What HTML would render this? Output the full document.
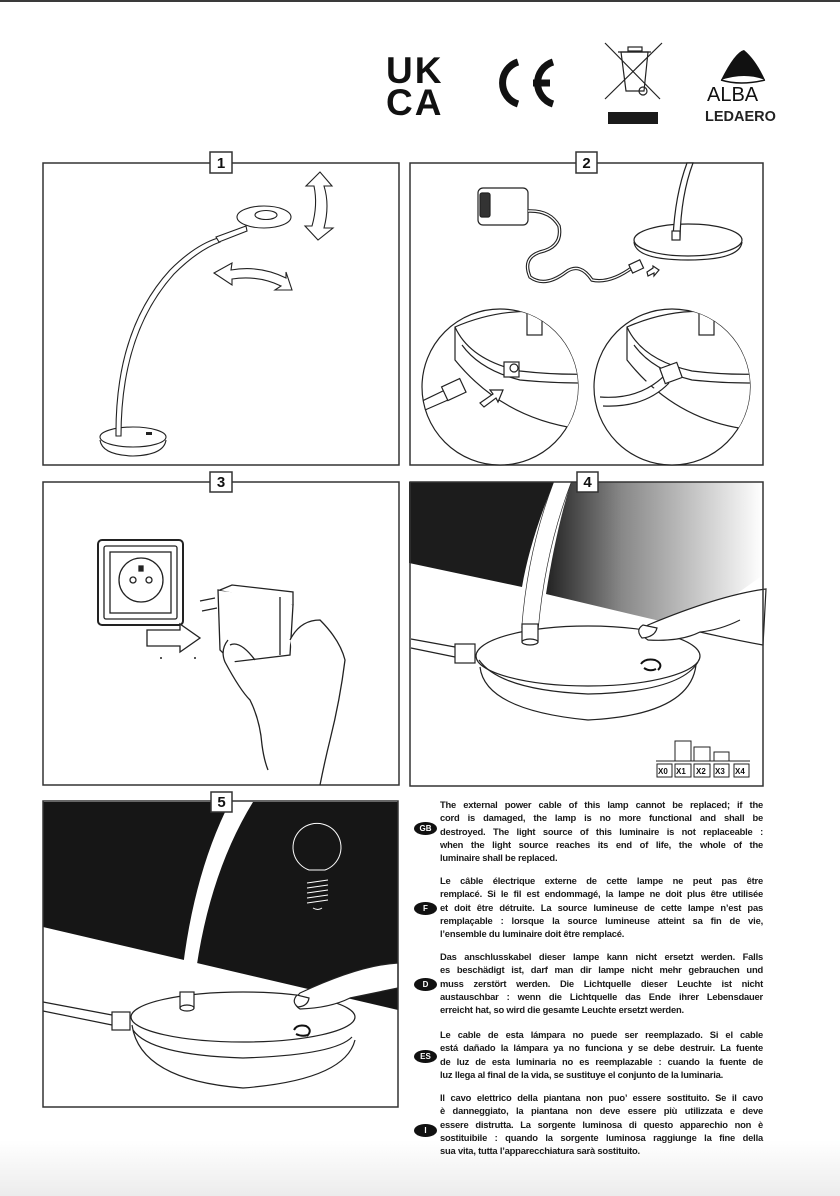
<!DOCTYPE html>
<html><head><meta charset="utf-8">
<style>
html,body{margin:0;padding:0;}
body{width:840px;height:1196px;position:relative;overflow:hidden;background:#fff;font-family:"Liberation Sans",Arial,sans-serif;}
.bg{position:absolute;left:0;top:1140px;width:840px;height:56px;background:linear-gradient(#fff,#ececec);}
.topline{position:absolute;left:0;top:0;width:840px;height:2px;background:#3a3a3a;}
svg{position:absolute;left:0;top:0;}
.blk{position:absolute;left:440px;width:323px;font-weight:bold;font-size:9.4px;line-height:13.3px;color:#1a1a1a;letter-spacing:-0.2px;}
.blk div{text-align:justify;text-align-last:justify;white-space:nowrap;height:13.3px;}
.blk div.l{text-align-last:left;}
.flag{position:absolute;left:414px;width:23px;height:13px;border-radius:50%;background:#111;color:#fff;font-size:8px;font-weight:bold;text-align:center;line-height:13px;}
</style></head><body>
<div class="bg"></div>
<div class="topline"></div>
<svg width="840" height="1196" viewBox="0 0 840 1196" xmlns="http://www.w3.org/2000/svg">
<defs>
<linearGradient id="g4" x1="0" y1="0" x2="1" y2="0">
<stop offset="0" stop-color="#222"/><stop offset="0.35" stop-color="#888"/><stop offset="1" stop-color="#fff"/>
</linearGradient>
<clipPath id="c1"><circle cx="500" cy="387" r="78"/></clipPath>
<clipPath id="c2"><circle cx="672" cy="387" r="78"/></clipPath>
</defs>

<!-- LOGOS -->
<text x="386" y="83" font-family="Liberation Sans" font-weight="bold" font-size="37" letter-spacing="2" fill="#111">UK</text>
<text x="386" y="115" font-family="Liberation Sans" font-weight="bold" font-size="37" letter-spacing="2" fill="#111">CA</text>
<path d="M518 62 A22 22 0 0 0 518 104" fill="none" stroke="#111" stroke-width="7"/>
<path d="M553 62 A22 22 0 0 0 553 104 M533 83 H550" fill="none" stroke="#111" stroke-width="7"/>
<g stroke="#222" fill="none" stroke-width="1.2">
<line x1="605" y1="43" x2="660" y2="99"/><line x1="662" y1="43" x2="605" y2="99"/>
<path d="M621 52 H648 L644 91 H626 Z"/><line x1="618" y1="52" x2="651" y2="52"/>
<rect x="628" y="47" width="14" height="4"/><circle cx="643" cy="91" r="4"/>
</g>
<rect x="608" y="112" width="50" height="12" fill="#1a1a1a"/>
<path d="M721 80 Q735 52 744 50 Q756 60 765 80 Q745 72 721 80 Z" fill="#111"/>
<path d="M721 80 Q740 86 765 80" fill="none" stroke="#111" stroke-width="1.5"/>
<text x="707" y="101" font-family="Liberation Sans" font-size="20" fill="#111">ALBA</text>
<text x="705" y="121" font-family="Liberation Sans" font-weight="bold" font-size="14.5" fill="#222">LEDAERO</text>

<!-- PANEL FRAMES -->
<g fill="none" stroke="#333" stroke-width="1.5">
<rect x="43" y="163" width="356" height="302"/>
<rect x="410" y="163" width="353" height="302"/>
<rect x="43" y="482" width="356" height="303"/>
</g>

<!-- PANEL 4 content -->
<path d="M409 482 H554 Q530 540 522 587 L409 563 Z" fill="#1c1c1c"/>
<path d="M571 482 H763 V640 L660 621 L546 594 Q556 530 571 482 Z" fill="url(#g4)"/>
<path d="M763 575 L700 620 L763 640 Z" fill="#fff"/>
<path d="M554 482 Q528 550 522 628 M571 482 Q545 550 538 628" fill="none" stroke="#222" stroke-width="1.3"/>
<path d="M554 482 Q528 550 522 628 L538 628 Q545 550 571 482 Z" fill="#fff"/>
<g fill="#fff" stroke="#222" stroke-width="1.2">
<path d="M480 667 Q485 710 588 720 Q690 715 696 665"/>
<ellipse cx="588" cy="656" rx="112" ry="30"/>
<path d="M479 660 Q500 690 588 694 Q680 692 698 662" fill="none"/>
<rect x="522" y="624" width="16" height="18"/>
<ellipse cx="530" cy="642" rx="8" ry="3"/>
<path d="M766 589 Q720 595 648 625 Q637 633 648 640 Q680 642 700 632 Q735 640 763 645 Z"/>
<path d="M643 625 Q635 630 642 638 Q655 637 657 628 Z"/>
<rect x="455" y="644" width="20" height="19"/>
</g>
<path d="M411 639 L455 647 M411 648 L455 657" stroke="#222" stroke-width="1.2"/>
<path d="M641 664 Q645 658 655 660 Q664 664 658 670 M644 668 Q650 672 656 669" fill="none" stroke="#111" stroke-width="2"/>
<path d="M700 632 Q720 630 740 620" fill="none" stroke="#222"/>
<g fill="none" stroke="#222" stroke-width="1">
<line x1="656" y1="761" x2="750" y2="761"/>
<rect x="675" y="741" width="16" height="20"/><rect x="694" y="747" width="16" height="14"/><rect x="714" y="752" width="15" height="9"/>
<rect x="657" y="764" width="15" height="13"/><rect x="675" y="764" width="16" height="13"/><rect x="694" y="764" width="16" height="13"/><rect x="714" y="764" width="15" height="13"/><rect x="734" y="764" width="15" height="13"/>
</g>
<g font-family="Liberation Sans" font-weight="bold" font-size="8" fill="#111">
<text x="658" y="774">X0</text><text x="676" y="774">X1</text><text x="696" y="774">X2</text><text x="715" y="774">X3</text><text x="735" y="774">X4</text>
</g>
<rect x="410" y="482" width="353" height="304" fill="none" stroke="#333" stroke-width="1.5"/>

<!-- PANEL 5 content -->
<path d="M43 802 H398 V1010 L43 927 Z" fill="#161616"/>
<path d="M230 802 Q190 880 180 995 L193 995 Q205 880 253 802 Z" fill="#fff"/>
<g fill="none" stroke="#fff" stroke-width="1">
<path d="M309 870 A24 24 0 1 1 325 870 Z"/>
<path d="M307 883 L328 880 M307 888 L328 885 M307 893 L328 890 M307 898 L328 895 M307 903 L328 900 M313 908 Q318 911 322 908"/>
</g>
<g fill="#fff" stroke="#222" stroke-width="1.2">
<path d="M132 1025 Q140 1080 243 1088 Q345 1080 355 1040"/>
<ellipse cx="243" cy="1017" rx="112" ry="25"/>
<path d="M133 1030 Q150 1055 243 1058 Q335 1055 352 1037" fill="none"/>
<rect x="180" y="992" width="14" height="16"/>
<ellipse cx="187" cy="1008" rx="7" ry="3"/>
<path d="M398 963 Q360 965 300 993 Q290 1003 300 1009 Q330 1008 350 998 L398 988 Z"/>
<path d="M297 995 Q291 1002 298 1007 Q308 1006 309 998 Z"/>
<rect x="112" y="1012" width="18" height="18"/>
</g>
<path d="M43 1002 L112 1015 M43 1011 L112 1025" stroke="#222" stroke-width="1.2"/>
<path d="M294 1030 Q297 1024 306 1026 Q313 1030 307 1036 M296 1034 Q302 1037 308 1035" fill="none" stroke="#111" stroke-width="2"/>
<rect x="43" y="801" width="355" height="306" fill="none" stroke="#333" stroke-width="1.5"/>

<!-- PANEL 1 content -->
<g fill="#fff" stroke="#222" stroke-width="1.1">
<path d="M100 440 Q102 455 133 456 Q164 455 166 440"/>
<ellipse cx="133" cy="437" rx="33" ry="10"/>
<path d="M116 436 Q115 330 170 270 Q195 245 218 238 L220 242 Q198 250 174 274 Q121 333 121 436 Z"/>
<path d="M216 237 L246 226 L247 231 L219 242 Z"/>
<ellipse cx="264" cy="217" rx="27" ry="11"/>
<ellipse cx="266" cy="215" rx="11" ry="4.5"/>
<path d="M320 172 L306 186 L314 186 Q318 205 312 226 L305 226 L318 240 L333 228 L324 228 Q330 205 324 186 L332 186 Z"/>
<path d="M214 273 L232 263 L231 270 Q260 265 286 278 L286 272 L292 290 L275 290 L281 286 Q258 275 232 279 L232 285 Z"/>
</g>
<rect x="146" y="432" width="6" height="3" fill="#222"/>

<!-- PANEL 2 content -->
<g fill="#fff" stroke="#222" stroke-width="1.2">
<rect x="478" y="188" width="50" height="37" rx="5"/>
<rect x="480" y="193" width="10" height="24" rx="2" fill="#333"/>
<path d="M528 211 Q550 210 559 226 Q563 247 540 252 Q522 258 530 277 Q545 288 566 272 Q580 262 592 280 Q610 284 633 267" fill="none" stroke-width="3.5"/>
<path d="M528 211 Q550 210 559 226 Q563 247 540 252 Q522 258 530 277 Q545 288 566 272 Q580 262 592 280 Q610 284 633 267" fill="none" stroke="#fff" stroke-width="1.3"/>
<rect x="630" y="262" width="12" height="9" transform="rotate(-25 636 266)"/>
<path d="M647 272 L653 268 L653 266 L659 270 L654 276 L654 273 L648 276 Z"/>
<path d="M634 242 Q636 260 688 260 Q740 260 742 242"/>
<ellipse cx="688" cy="240" rx="54" ry="16"/>
<path d="M673 238 Q675 195 687 163 L693 163 Q681 195 680 238 Z"/>
<rect x="672" y="231" width="8" height="9"/>
<circle cx="500" cy="387" r="78"/>
<circle cx="672" cy="387" r="78"/>
</g>
<g clip-path="url(#c1)" fill="#fff" stroke="#222" stroke-width="1.2">
<path d="M455 327 Q540 290 640 340 L640 430 Q520 440 455 360 Z"/>
<path d="M455 327 Q470 360 520 371 Q580 378 640 370" fill="none"/>
<path d="M462 345 Q480 370 520 380 Q580 386 640 380" fill="none"/>
<rect x="527" y="300" width="15" height="35"/>
<rect x="504" y="362" width="15" height="15"/>
<circle cx="514" cy="368" r="4"/>
<path d="M420 402 L445 390 M425 410 L448 400" />
<rect x="444" y="382" width="20" height="15" transform="rotate(-25 454 390)"/>
<path d="M480 403 L493 394 L490 390 L503 390 L498 402 L496 398 L484 407 Z"/>
</g>
<g clip-path="url(#c2)" fill="#fff" stroke="#222" stroke-width="1.2">
<path d="M627 327 Q712 290 800 340 L800 430 Q690 440 627 360 Z"/>
<path d="M627 327 Q642 360 692 371 Q750 378 800 370" fill="none"/>
<path d="M634 345 Q652 370 692 380 Q750 386 800 380" fill="none"/>
<rect x="699" y="300" width="15" height="35"/>
<path d="M600 397 Q640 400 665 375 M603 406 Q645 408 669 383"/>
<rect x="662" y="365" width="18" height="16" transform="rotate(-20 671 373)"/>
</g>

<!-- PANEL 3 content -->
<g fill="#fff" stroke="#222" stroke-width="1.3">
<rect x="98" y="540" width="85" height="85" rx="4" stroke-width="2"/>
<rect x="104" y="546" width="73" height="73" rx="2"/>
<rect x="110" y="552" width="61" height="61"/>
<circle cx="141" cy="580" r="22"/>
<circle cx="133" cy="580" r="3"/><circle cx="149" cy="580" r="3"/>
<path d="M139 566 h4 v5 h-4z" fill="#222"/>
<path d="M147 630 L180 630 L180 624 L200 638 L180 652 L180 646 L147 646 Z"/>
<path d="M200 601 L215 598 M202 611 L217 608"/>
<path d="M218 590 L280 597 L293 605 L290 655 L232 662 L220 650 Z"/>
<path d="M280 597 L280 655 M220 590 L232 585 L293 592 L293 605"/>
<path d="M228 640 Q220 650 225 662 Q240 690 250 700 Q260 720 262 745 Q264 760 268 770"/>
<path d="M290 640 Q300 620 320 620 Q340 640 345 660 Q340 700 330 740 Q325 760 320 785"/>
<path d="M230 645 Q240 640 255 660" fill="none"/>
</g>
<circle cx="161" cy="658" r="1" fill="#222"/><circle cx="195" cy="658" r="1" fill="#222"/>

<!-- number boxes -->
<g fill="#fff" stroke="#333" stroke-width="1.5">
<rect x="210" y="152" width="22" height="21"/>
<rect x="576" y="152" width="21" height="21"/>
<rect x="210" y="472" width="22" height="20"/>
<rect x="577" y="472" width="21" height="20"/>
<rect x="211" y="792" width="21" height="20"/>
</g>
<g font-family="Liberation Sans" font-weight="bold" font-size="15" fill="#111" text-anchor="middle">
<text x="221" y="168">1</text><text x="586.5" y="168">2</text><text x="221" y="487">3</text><text x="587.5" y="487">4</text><text x="221.5" y="807">5</text>
</g>
</svg>

<div class="flag" style="top:822px">GB</div>
<div class="flag" style="top:902px">F</div>
<div class="flag" style="top:978px">D</div>
<div class="flag" style="top:1050px">ES</div>
<div class="flag" style="top:1124px">I</div>

<div class="blk" style="top:798px">
<div>The external power cable of this lamp cannot be replaced; if the</div>
<div>cord is damaged, the lamp is no more functional and shall be</div>
<div>destroyed. The light source of this luminaire is not replaceable :</div>
<div>when the light source reaches its end of life, the whole of the</div>
<div class="l">luminaire shall be replaced.</div>
</div>
<div class="blk" style="top:874px">
<div>Le câble électrique externe de cette lampe ne peut pas être</div>
<div>remplacé. Si le fil est endommagé, la lampe ne doit plus être utilisée</div>
<div>et doit être détruite. La source lumineuse de cette lampe n’est pas</div>
<div>remplaçable : lorsque la source lumineuse atteint sa fin de vie,</div>
<div class="l">l’ensemble du luminaire doit être remplacé.</div>
</div>
<div class="blk" style="top:950px">
<div>Das anschlusskabel dieser lampe kann nicht ersetzt werden. Falls</div>
<div>es beschädigt ist, darf man dir lampe nicht mehr gebrauchen und</div>
<div>muss zerstört werden. Die Lichtquelle dieser Leuchte ist nicht</div>
<div>austauschbar : wenn die Lichtquelle das Ende ihrer Lebensdauer</div>
<div class="l">erreicht hat, so wird die gesamte Leuchte ersetzt werden.</div>
</div>
<div class="blk" style="top:1028px">
<div>Le cable de esta lámpara no puede ser reemplazado. Si el cable</div>
<div>está dañado la lámpara ya no funciona y se debe destruir. La fuente</div>
<div>de luz de esta luminaria no es reemplazable : cuando la fuente de</div>
<div class="l">luz llega al final de la vida, se sustituye el conjunto de la luminaria.</div>
</div>
<div class="blk" style="top:1091px">
<div>Il cavo elettrico della piantana non puo’ essere sostituito. Se il cavo</div>
<div>è danneggiato, la piantana non deve essere più utilizzata e deve</div>
<div>essere distrutta. La sorgente luminosa di questo apparechio non è</div>
<div>sostituibile : quando la sorgente luminosa raggiunge la fine della</div>
<div class="l">sua vita, tutta l’apparecchiatura sarà sostituito.</div>
</div>
</body></html>
